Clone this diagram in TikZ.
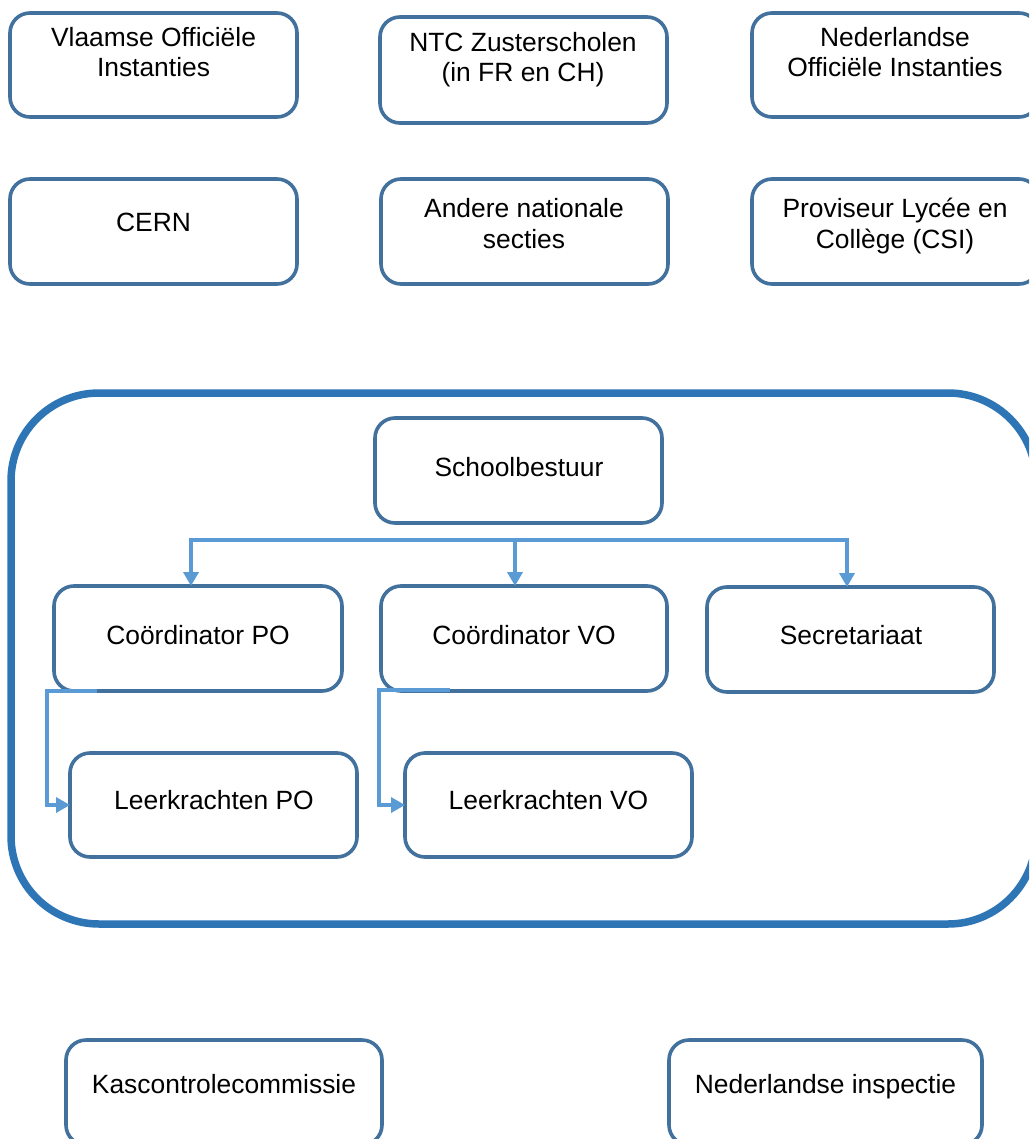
\documentclass[tikz,border=0pt]{standalone}
\usepackage{fontspec}
\setmainfont{Liberation Sans}
\usetikzlibrary{arrows.meta}
\definecolor{boxblue}{HTML}{41719C}
\definecolor{linkblue}{HTML}{5B9BD5}
\definecolor{frameblue}{HTML}{2E75B6}
\tikzset{
  orgbox/.style={draw=boxblue, line width=3.6pt, rounded corners=20pt, anchor=north west, inner sep=0pt, outer sep=0pt},
  lbl/.style={anchor=base, inner sep=0pt, font=\fontsize{26.4}{31}\selectfont, text=black},
  link/.style={draw=linkblue, line width=3.7pt, -{Triangle[length=14pt,width=15pt]}},
  busline/.style={draw=linkblue, line width=3.7pt, line cap=rect},
  frame/.style={draw=frameblue, line width=7.5pt, rounded corners=88pt}
}
\begin{document}
\begin{tikzpicture}[x=1pt,y=-1pt]
\useasboundingbox (0,0) rectangle (1029,1139);
\clip (0,0) rectangle (1029,1139);
\fill[white] (0,0) rectangle (1029,1139);

% container
\draw[frame] (11,393) rectangle (1036,924);

% outer boxes
\node[orgbox, minimum width=287pt, minimum height=104pt] (vlaamse) at (10,13) {};
\node[orgbox, minimum width=287pt, minimum height=106pt] (ntc) at (380,17) {};
\node[orgbox, minimum width=287pt, minimum height=104pt] (nedoff) at (752,13) {};
\node[orgbox, minimum width=287pt, minimum height=105pt] (cern) at (10,179) {};
\node[orgbox, minimum width=287pt, minimum height=105pt] (andere) at (381,179) {};
\node[orgbox, minimum width=287pt, minimum height=105pt] (prov) at (752,179) {};

% inner boxes
\node[orgbox, minimum width=287pt, minimum height=105pt] (school) at (375,418) {};
\node[orgbox, minimum width=288pt, minimum height=105pt] (copo) at (54,586) {};
\node[orgbox, minimum width=286pt, minimum height=105pt] (covo) at (381,586) {};
\node[orgbox, minimum width=287pt, minimum height=105pt] (sec) at (707,587) {};
\node[orgbox, minimum width=287pt, minimum height=104pt] (lpo) at (70,753) {};
\node[orgbox, minimum width=287pt, minimum height=104pt] (lvo) at (405,753) {};

% bottom boxes
\node[orgbox, minimum width=316pt, minimum height=105pt] (kas) at (66,1040) {};
\node[orgbox, minimum width=313pt, minimum height=105pt] (nedins) at (669,1040) {};

% texts
\node[lbl] (vlaamse-t1) at (153.5,47) {Vlaamse Officiële};
\node[lbl] (vlaamse-t2) at (153.5,77) {Instanties};
\node[lbl] (ntc-t1) at (523,52) {NTC Zusterscholen};
\node[lbl] (ntc-t2) at (523,82) {(in FR en CH)};
\node[lbl] (nedoff-t1) at (895,47) {Nederlandse};
\node[lbl] (nedoff-t2) at (895,77) {Officiële Instanties};
\node[lbl] (cern-t) at (153.5,232) {CERN};
\node[lbl] (andere-t1) at (524,218) {Andere nationale};
\node[lbl] (andere-t2) at (524,249) {secties};
\node[lbl] (prov-t1) at (895,218) {Proviseur Lycée en};
\node[lbl] (prov-t2) at (895,249) {Collège (CSI)};
\node[lbl] (school-t) at (519,476) {Schoolbestuur};
\node[lbl] (copo-t) at (198,644) {Coördinator PO};
\node[lbl] (covo-t) at (524,644) {Coördinator VO};
\node[lbl] (sec-t) at (851,644) {Secretariaat};
\node[lbl] (lpo-t) at (214,809) {Leerkrachten PO};
\node[lbl] (lvo-t) at (548.5,809) {Leerkrachten VO};
\node[lbl] (kas-t) at (224,1093) {Kascontrolecommissie};
\node[lbl] (nedins-t) at (825.5,1093) {Nederlandse inspectie};

% connectors
\coordinate (bus-l) at (191,540);
\coordinate (bus-m) at (515,540);
\coordinate (bus-r) at (847,540);
\draw[busline] (bus-l) -- (bus-r);
\draw[link] (bus-l) -- (bus-l |- copo.north);
\draw[link] (bus-m) -- (bus-m |- covo.north);
\draw[link] (bus-r) -- (bus-r |- sec.north);

\coordinate (po-a) at (97,691);
\coordinate (po-b) at (47,691);
\draw[link] (po-a) -- (po-b) |- (lpo.west);

\coordinate (vo-a) at (450,690);
\coordinate (vo-b) at (379,690);
\draw[link] (vo-a) -- (vo-b) |- (lvo.west);
\end{tikzpicture}
\end{document}
